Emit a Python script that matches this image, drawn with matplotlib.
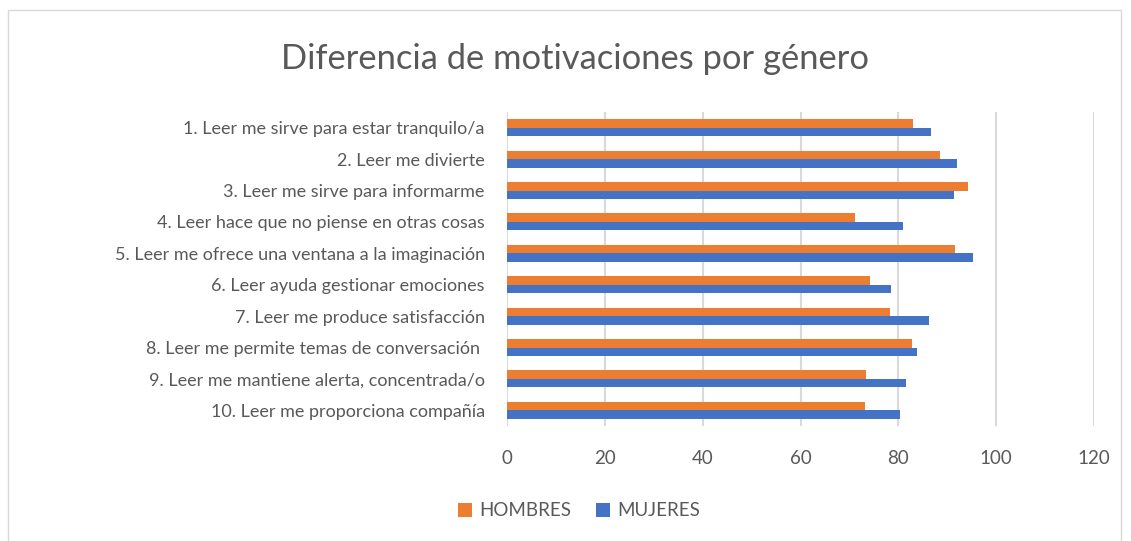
import matplotlib
matplotlib.use('Agg')
import matplotlib.pyplot as plt
import numpy as np
from matplotlib.patches import Rectangle

# Données
categorias = [
    "1. Leer me sirve para estar tranquilo/a",
    "2. Leer me divierte",
    "3. Leer me sirve para informarme",
    "4. Leer hace que no piense en otras cosas",
    "5. Leer me ofrece una ventana a la imaginación",
    "6. Leer ayuda gestionar emociones",
    "7. Leer me produce satisfacción",
    "8. Leer me permite temas de conversación ",
    "9. Leer me mantiene alerta, concentrada/o",
    "10. Leer me proporciona compañía",
]
hombres = [83.0, 88.6, 94.2, 71.2, 91.6, 74.3, 78.2, 82.7, 73.3, 73.1]
mujeres = [86.6, 91.9, 91.3, 80.9, 95.2, 78.6, 86.2, 83.9, 81.5, 80.3]
xticks = [0, 20, 40, 60, 80, 100, 120]

plt.rcParams['font.family'] = ['Lato', 'DejaVu Sans']
gris = '#595959'

W, H = 1131, 541
fig = plt.figure(figsize=(W / 100, H / 100), dpi=100)
ax = fig.add_axes([507 / W, 1 - 426 / H, (1094 - 507) / W, (426 - 112) / H])

y = np.arange(len(categorias))
h = 0.27
ax.barh(y - h / 2, hombres, height=h, color='#ED7D31', label='HOMBRES', zorder=3)
ax.barh(y + h / 2, mujeres, height=h, color='#4472C4', label='MUJERES', zorder=3)

ax.set_xlim(0, 120)
ax.set_ylim(len(categorias) - 0.5, -0.5)
ax.set_xticks(xticks)
ax.set_yticks(y)
ax.set_yticklabels(categorias)
ax.tick_params(axis='y', length=0, labelsize=13, colors=gris, pad=16)
ax.tick_params(axis='x', length=0, labelsize=13.5, colors=gris, pad=17)
ax.grid(axis='x', color='#D9D9D9', linewidth=1.5, zorder=0)
for s in ax.spines.values():
    s.set_visible(False)

fig.text(575 / W, 1 - 59 / H, "Diferencia de motivaciones por género",
         ha='center', va='center', fontsize=24.8, color=gris)

# --- Légende ---
fig.legend(loc='center', bbox_to_anchor=(579 / W, 1 - 511 / H), ncol=2,
           frameon=False, fontsize=13.5, labelcolor=gris,
           handlelength=0.75, handleheight=0.75, columnspacing=1.3, handletextpad=0.4)

# Cadre du graphique
fig.patches.append(Rectangle((8 / W, -0.1), (1121 - 8) / W, 1.1 - 10 / H,
                             transform=fig.transFigure, fill=False,
                             edgecolor='#D9D9D9', linewidth=1))

fig.savefig('out.png', dpi=100, facecolor='white')
